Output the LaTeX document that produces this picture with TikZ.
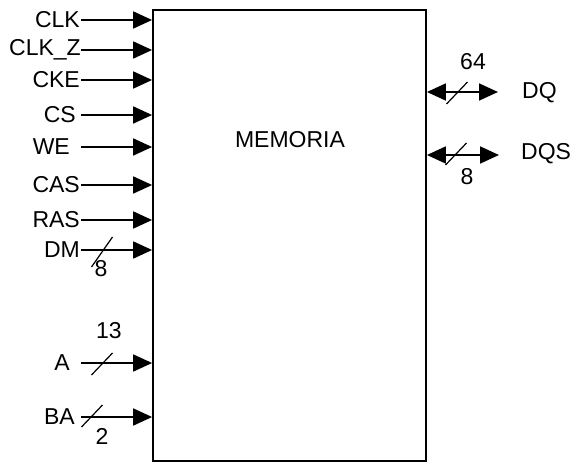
\documentclass[tikz,border=0pt]{standalone}
\usepackage{fontspec}
\setmainfont{Liberation Sans}
\usepackage{tikz}
\usetikzlibrary{arrows.meta,positioning,calc}
\tikzset{
  membox/.style={draw, line width=1.8pt, minimum width=273pt, minimum height=451pt, inner sep=0pt},
  pinlbl/.style={font=\fontsize{23}{25}\selectfont, inner sep=0pt},
  sig/.style={-{Triangle[length=19pt, width=17pt]}, line width=1.8pt},
  bisig/.style={{Triangle[length=19pt, width=17pt]}-{Triangle[length=19pt, width=17pt]}, line width=1.8pt},
  busmark/.style={line width=1.2pt},
}

\begin{document}
\begin{tikzpicture}[x=1pt, y=-1pt]
  \useasboundingbox (0,0) rectangle (575,462);
  \node[membox] (mem) at (289.5,235.5) {};
  \node[pinlbl] (memlbl) at (290,140) {MEMORIA};

  % entradas simples
  \foreach \nm/\yy/\lx in {CLK/20/80, CLK\_Z/50/81, CKE/80/80, CS/115/76, WE/147/70, CAS/185/80, RAS/220/80}{
    \node[pinlbl, anchor=east] (l\yy) at (\lx,\yy) {\nm};
    \coordinate (s\yy) at (81,\yy);
    \draw[sig] (s\yy) -- (mem.west |- s\yy);
  }

  % entradas de bus
  \foreach \nm/\yy/\lx in {DM/250/80, A/363/70, BA/417/75}{
    \node[pinlbl, anchor=east] (l\yy) at (\lx,\yy) {\nm};
    \coordinate (s\yy) at (81,\yy);
    \draw[sig] (s\yy) -- (mem.west |- s\yy);
  }
  \draw[busmark] (102,252) ++(-10.5,15) -- ++(21,-30);
  \node[pinlbl] (w250) at (101,269) {8};
  \draw[busmark] (102,364) ++(-10.5,11) -- ++(21,-22);
  \node[pinlbl] (w363) at (109,331) {13};
  \draw[busmark] (92,416) ++(-10.5,11) -- ++(21,-22);
  \node[pinlbl] (w417) at (102,436) {2};

  % salidas bidireccionales
  \coordinate (e92) at (498,92);
  \coordinate (e155) at (499,155);
  \draw[bisig] (mem.east |- e92) -- (e92);
  \draw[bisig] (mem.east |- e155) -- (e155);
  \node[pinlbl, anchor=west] (dq) at (522,93) {DQ};
  \node[pinlbl, anchor=west] (dqs) at (521,154) {DQS};
  \draw[busmark] (457,93) ++(-10.5,11) -- ++(21,-22);
  \node[pinlbl] (w92) at (473,62) {64};
  \draw[busmark] (456,154) ++(-10.5,11) -- ++(21,-22);
  \node[pinlbl] (w155) at (467,177) {8};
\end{tikzpicture}
\end{document}
